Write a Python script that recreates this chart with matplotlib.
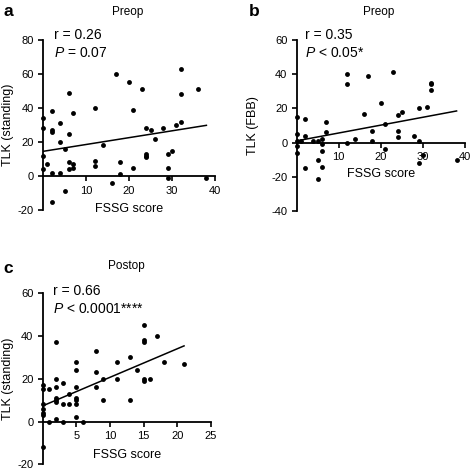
import matplotlib
matplotlib.use("Agg")
import matplotlib.pyplot as plt

plt.rcParams['font.family'] = ['Liberation Sans', 'DejaVu Sans']
plt.rcParams['axes.unicode_minus'] = False
plt.rcParams['mathtext.fontset'] = 'custom'
plt.rcParams['mathtext.it'] = 'Liberation Sans:italic'
plt.rcParams['mathtext.rm'] = 'Liberation Sans'

# ---------------- data ----------------
# Panel a: Preop, FSSG score vs TLK (standing)
a_x = [0, 0, 0, 0, 1, 2, 2, 2, 2, 2, 4, 4, 4, 5, 5, 6, 6, 6, 6, 7, 7, 7,
       12, 12, 12, 14, 16, 17, 18, 18, 20, 21, 21, 23, 24, 24, 24, 24, 25, 26,
       28, 29, 29, 29, 30, 31, 32, 32, 32, 36, 38]
a_y = [34, 28, 12, 4, 7, 38, 27, 26, 2, -15, 31, 20, 2, 16, -9, 49, 25, 8, 4, 37, 7, 5,
       40, 9, 6, 18, -4, 60, 8, 1, 55, 39, 5, 51, 28, 13, 12, 11, 27, 22,
       28, 13, 5, -1, 15, 30, 63, 48, 32, 51, -1]
a_fit_x = [0, 38]
a_fit_y = [14.5, 29.8]

# Panel b: Preop, FSSG score vs TLK (FBB)
b_x = [0, 0, 0, 0, 0, 1, 2, 2, 2, 4, 5, 5, 5, 6, 6, 6, 6, 7, 7,
       12, 12, 12, 14, 16, 17, 18, 18, 20, 21, 21, 23, 24, 24, 24, 25,
       28, 29, 29, 29, 30, 31, 32, 32, 32, 38]
b_y = [15, 5, 1, -2, -6, 1, 14, 4, -15, 1, 1, -10, -21, 2, -1, -5, -14, 12, 6,
       40, 34, 0, 2, 17, 39, 7, 1, 23, 11, -4, 41, 16, 7, 3, 18,
       4, 20, 1, -12, -7, 21, 35, 34, 31, -10]
b_fit_x = [0, 38]
b_fit_y = [1.0, 18.5]

# Panel c: Postop, FSSG score vs TLK (standing)
c_x = [0, 0, 0, 0, 0, 0, 0, 1, 1, 2, 2, 2, 2, 2, 2, 2, 3, 3, 3, 4, 4,
       5, 5, 5, 5, 5, 5, 5, 6, 8, 8, 8, 9, 9, 11, 11, 13, 13, 14,
       15, 15, 15, 15, 15, 16, 17, 18, 21]
c_y = [17, 15, 8, 6, 4, 3, -12, 15, 0, 37, 20, 16, 11, 10, 9, 1, 18, 8, 0, 13, 8,
       28, 24, 16, 11, 10, 8, 2, 0, 33, 23, 16, 20, 10, 28, 20, 30, 10, 24,
       45, 38, 37, 20, 19, 20, 40, 28, 27]
c_fit_x = [0, 21]
c_fit_y = [7.3, 35.4]

panels = [
    dict(letter='a', title='Preop', ylabel='TLK (standing)',
         x=a_x, y=a_y, fx=a_fit_x, fy=a_fit_y,
         xlim=(0, 40), ylim=(-20, 80), xticks=[10, 20, 30, 40],
         yticks=[-20, 0, 20, 40, 60, 80],
         r='r = 0.26', p=' = 0.07'),
    dict(letter='b', title='Preop', ylabel='TLK (FBB)',
         x=b_x, y=b_y, fx=b_fit_x, fy=b_fit_y,
         xlim=(0, 40), ylim=(-40, 60), xticks=[10, 20, 30, 40],
         yticks=[-40, -20, 0, 20, 40, 60],
         r='r = 0.35', p=' < 0.05*'),
    dict(letter='c', title='Postop', ylabel='TLK (standing)',
         x=c_x, y=c_y, fx=c_fit_x, fy=c_fit_y,
         xlim=(0, 25), ylim=(-20, 60), xticks=[5, 10, 15, 20, 25],
         yticks=[-20, 0, 20, 40, 60],
         r='r = 0.66', p=' < 0.0001****'),
]

# ---------------- layout (pixel geometry) ----------------
W, H = 472, 470
geom = [
    dict(box=(43, 215, 40, 210), letter=(3, 16), title=(128, 12), ylab=8, xlab=203,
         r=(54, 39), p=(54, 57)),
    dict(box=(296.5, 465, 40, 211), letter=(249, 16), title=(379, 12), ylab=253, xlab=168,
         r=(305, 39), p=(305, 57)),
    dict(box=(42.5, 211, 293.3, 464.3), letter=(3, 273), title=(126, 266), ylab=8, xlab=449,
         r=(53, 295), p=(53, 313)),
]

fig = plt.figure(figsize=(W / 100, H / 100), dpi=100)

for pn, g in zip(panels, geom):
    x0, x1, yt, yb = g['box']
    ax = fig.add_axes([x0 / W, 1 - yb / H, (x1 - x0) / W, (yb - yt) / H])
    ax.set_xlim(*pn['xlim'])
    ax.set_ylim(*pn['ylim'])
    ax.plot(pn['x'], pn['y'], 'o', color='black', ms=3.5, mew=0, clip_on=False, zorder=3)
    ax.plot(pn['fx'], pn['fy'], '-', color='black', lw=1.1, zorder=2)

    for s in ('top', 'right'):
        ax.spines[s].set_visible(False)
    ax.spines['bottom'].set_position(('data', 0))
    for s in ('left', 'bottom'):
        ax.spines[s].set_linewidth(1.3)
    ax.set_xticks(pn['xticks'])
    ax.set_yticks(pn['yticks'])
    ax.tick_params(axis='both', direction='out', length=3.5, width=1.2,
                   labelsize=8, colors='black')
    ax.tick_params(axis='x', pad=3.5)
    ax.tick_params(axis='y', pad=3)

    ax.set_ylabel(pn['ylabel'], fontsize=9)
    ax.yaxis.set_label_coords((g['ylab'] - x0) / (x1 - x0), 0.5)
    ax.yaxis.label.set_verticalalignment('center')
    ax.set_xlabel('FSSG score', fontsize=9)
    ax.xaxis.set_label_coords(0.5, (yb - g['xlab']) / (yb - yt))

    lx, ly = g['letter']
    fig.text(lx / W, 1 - ly / H, pn['letter'], fontsize=12.5, fontweight='bold',
             ha='left', va='baseline')
    tx, ty = g['title']
    fig.text(tx / W, 1 - ty / H, pn['title'], fontsize=8.5, ha='center', va='center')
    rx, ry = g['r']
    fig.text(rx / W, 1 - ry / H, pn['r'], fontsize=10, ha='left', va='baseline')
    px, py = g['p']
    fig.text(px / W, 1 - py / H, r'$\mathit{P}$' + pn['p'], fontsize=10,
             ha='left', va='baseline')

fig.savefig('out.png', dpi=100)
